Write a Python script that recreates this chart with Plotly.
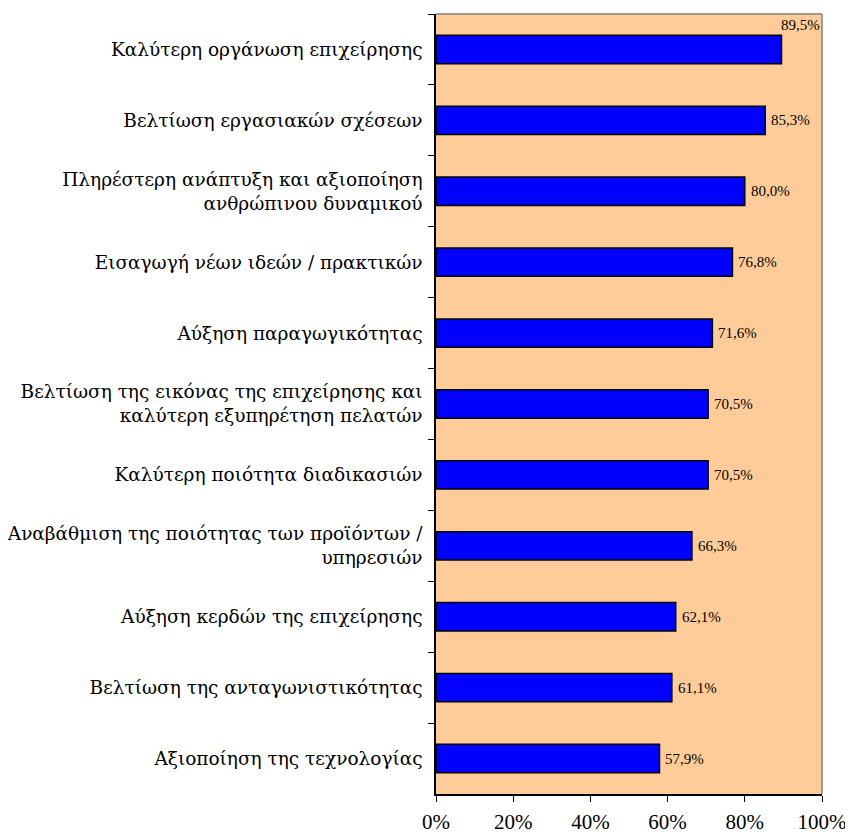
import plotly.graph_objects as go

# categories top to bottom, as in the source chart
categories = [
    "Καλύτερη οργάνωση επιχείρησης",
    "Βελτίωση εργασιακών σχέσεων",
    "Πληρέστερη ανάπτυξη και αξιοποίηση<br>ανθρώπινου δυναμικού",
    "Εισαγωγή νέων ιδεών / πρακτικών",
    "Αύξηση παραγωγικότητας",
    "Βελτίωση της εικόνας της επιχείρησης και<br>καλύτερη εξυπηρέτηση πελατών",
    "Καλύτερη ποιότητα διαδικασιών",
    "Αναβάθμιση της ποιότητας των προϊόντων /<br>υπηρεσιών",
    "Αύξηση κερδών της επιχείρησης",
    "Βελτίωση της ανταγωνιστικότητας",
    "Αξιοποίηση της τεχνολογίας",
]
values = [89.5, 85.3, 80.0, 76.8, 71.6, 70.5, 70.5, 66.3, 62.1, 61.1, 57.9]
labels = ["89,5%", "85,3%", "80,0%", "76,8%", "71,6%", "70,5%", "70,5%",
          "66,3%", "62,1%", "61,1%", "57,9%"]
xtick_vals = [0, 20, 40, 60, 80, 100]
xtick_text = ["0%", "20%", "40%", "60%", "80%", "100%"]

FONT = "Liberation Serif"
GREEK_FONT = "DejaVu Serif"

fig = go.Figure()
fig.add_trace(go.Bar(
    x=values,
    y=categories,
    orientation="h",
    marker=dict(color="#0000FF", line=dict(color="black", width=1.5)),
    width=0.4,
    hoverinfo="x+y",
))

# value labels right of each bar; the top one sits above since it hits the edge
for v, c, t in zip(values, categories, labels):
    if v > 88:
        fig.add_annotation(x=100, y=c, text=t, xref="x", yref="y",
                           xanchor="right", yanchor="bottom", yshift=14,
                           showarrow=False, font=dict(family=FONT, size=15, color="black"))
    else:
        fig.add_annotation(x=v, y=c, text=t, xref="x", yref="y",
                           xanchor="left", xshift=4,
                           showarrow=False, font=dict(family=FONT, size=15, color="black"))

# gray top/right frame
fig.add_shape(type="line", xref="paper", yref="paper", x0=0, x1=1, y0=1, y1=1,
              line=dict(color="#808080", width=1.5))
fig.add_shape(type="line", xref="paper", yref="paper", x0=1, x1=1, y0=0, y1=1,
              line=dict(color="#808080", width=1.5))

fig.update_layout(
    width=845, height=826,
    margin=dict(l=428, r=31, t=6, b=40),
    paper_bgcolor="white",
    plot_bgcolor="#FFCC99",
    showlegend=False,
    font=dict(family=FONT, color="black"),
    xaxis=dict(
        range=[0, 100], tickvals=xtick_vals, ticktext=xtick_text,
        showgrid=False, zeroline=False, automargin=False,
        showline=True, linecolor="black", linewidth=1.5,
        ticks="outside", ticklen=6, tickcolor="black", ticklabelstandoff=2,
        tickfont=dict(family=FONT, size=21, color="black"),
    ),
    yaxis=dict(
        autorange="reversed", showgrid=False, zeroline=False, automargin=False,
        showline=True, linecolor="black", linewidth=1.5,
        ticks="outside", ticklen=6, tickcolor="black", tickson="boundaries",
        ticklabelstandoff=8,
        tickfont=dict(family=GREEK_FONT, size=18.5, color="black"),
    ),
)

fig.write_html("out.html")
